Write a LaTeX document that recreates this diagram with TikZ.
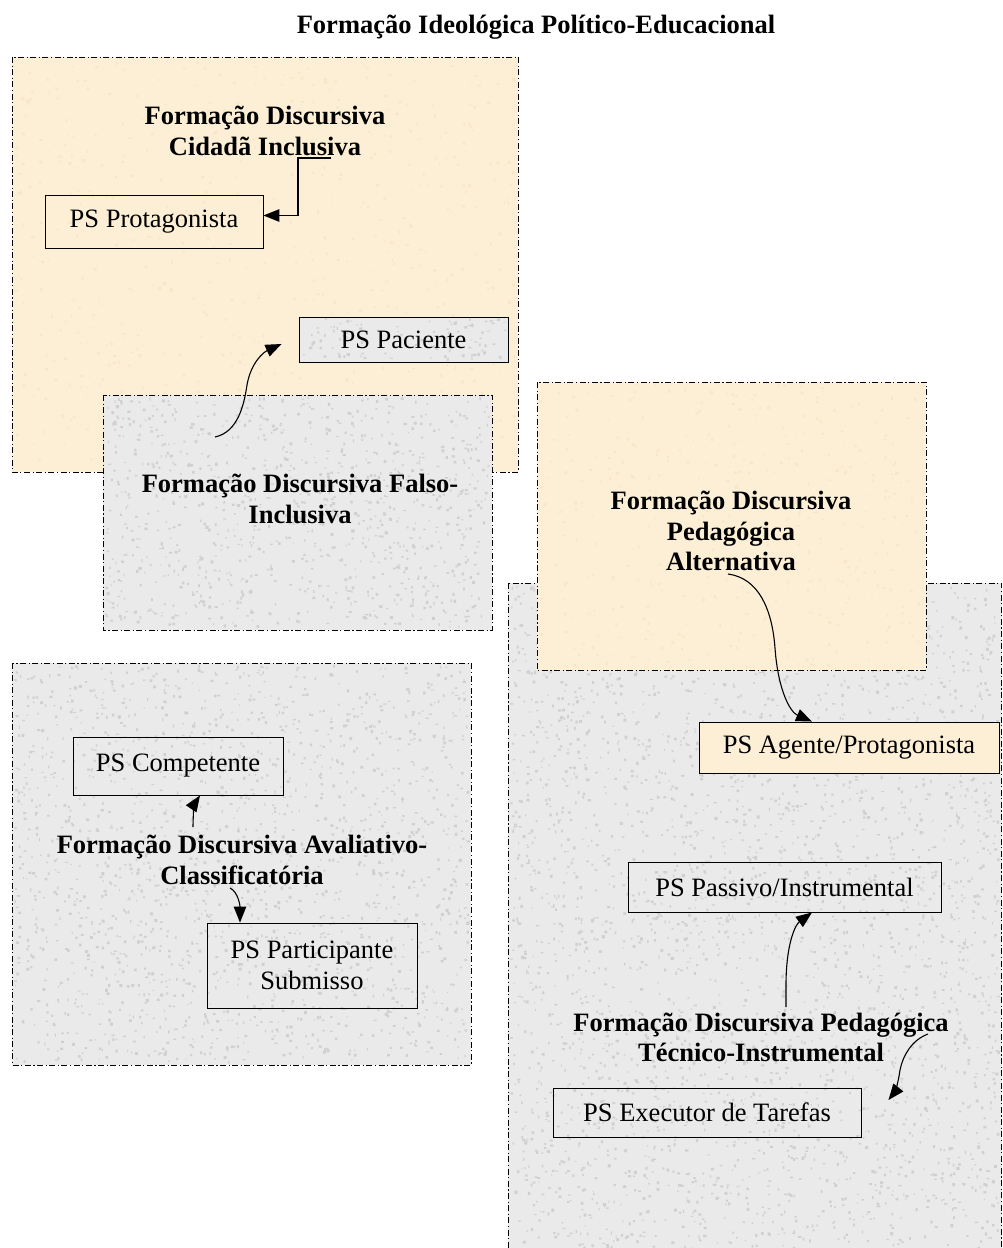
\documentclass[tikz,border=0pt]{standalone}
\usepackage{fontspec}
\setmainfont{Liberation Serif}
\usetikzlibrary{arrows.meta,calc}
\definecolor{cream}{HTML}{FCEFD5}
\definecolor{stone}{HTML}{EAEAEA}
\definecolor{fleckgray}{HTML}{D0D0D0}
\definecolor{fleckcream}{HTML}{F7E7C8}

% scatter small flecks over a rectangle: x0, y0, x1, y1, batches of 100, colour
\newcommand\scatterflecks[6]{%
  \foreach \b in {1,...,#5}{
    \fill[#6] \foreach \k in {1,...,100}{
      ({#1+rnd*(#3-#1)},{#2+rnd*(#4-#2)}) rectangle ++({1+rnd*2.2},{1+rnd*2.2})
    };
  }}

\begin{document}
\begin{tikzpicture}[x=1pt,y=-1pt,
  zone/.style={draw, line width=0.8pt, dash pattern=on 6pt off 2.5pt on 1.2pt off 2.5pt},
  psbox/.style={draw, line width=0.9pt, inner sep=0pt, align=center,
                font=\fontsize{26.5}{31}\selectfont},
  fdlabel/.style={inner sep=0pt, align=center,
                  font=\bfseries\fontsize{26.5}{30.5}\selectfont},
  link/.style={line width=1.1pt, -{Triangle[length=16pt,width=12.5pt]}}
]
\pgfmathsetseed{4711}
\useasboundingbox (0,0) rectangle (1003,1248);
\clip (0,0) rectangle (1003,1248);

% title
\node[fdlabel] (title) at (536,27) {Formação Ideológica Político-Educacional};

% discursive formation zones (drawn back to front)
\path[fill=cream] (12,57) rectangle (518,472);
\scatterflecks{14}{59}{514}{468}{6}{fleckcream}
\path[zone] (12,57) rectangle (518,472);

\path[fill=stone] (103,395) rectangle (492,630);
\scatterflecks{105}{397}{488}{626}{10}{fleckgray}
\path[zone] (103,395) rectangle (492,630);

\path[fill=stone] (508,583) rectangle (1001.5,1260);
\scatterflecks{510}{585}{998}{1248}{32}{fleckgray}
\path[zone] (508,583) rectangle (1001.5,1260);

\path[fill=cream] (537,382) rectangle (926,670);
\scatterflecks{539}{384}{922}{666}{4}{fleckcream}
\path[zone] (537,382) rectangle (926,670);

\path[fill=stone] (12,663) rectangle (471,1065);
\scatterflecks{14}{665}{467}{1061}{18}{fleckgray}
\path[zone] (12,663) rectangle (471,1065);

% zone labels
\node[fdlabel] (fdA) at (265,131) {Formação Discursiva\\Cidadã Inclusiva};
\node[fdlabel] (fdB) at (300,499) {Formação Discursiva Falso-\\Inclusiva};
\node[fdlabel] (fdC) at (731,531) {Formação Discursiva\\Pedagógica\\Alternativa};
\node[fdlabel] (fdD) at (761,1037.5) {Formação Discursiva Pedagógica\\Técnico-Instrumental};
\node[fdlabel] (fdE) at (242,860) {Formação Discursiva Avaliativo-\\Classificatória};

% subject positions
\node[psbox, minimum width=218pt, minimum height=53pt] (prot) at (154,221.5) {PS Protagonista};
\path[fill=stone] (299,317) rectangle (508,362);
\scatterflecks{300}{318}{505}{359}{1}{fleckgray}
\node[psbox, minimum width=209pt, minimum height=45pt] (pac) at (403.5,339.5) {PS Paciente};
\node[psbox, fill=cream, minimum width=300pt, minimum height=51pt] (agt) at (849,747.5) {PS Agente/Protagonista};
\node[psbox, minimum width=313pt, minimum height=50pt] (pas) at (784.5,887) {PS Passivo/Instrumental};
\node[psbox, minimum width=308pt, minimum height=49pt] (exe) at (707,1112.5) {PS Executor de Tarefas};
\node[psbox, minimum width=210pt, minimum height=58pt] (comp) at (178,766) {PS Competente};
\node[psbox, minimum width=210pt, minimum height=85pt] (part) at (312,965.5) {PS Participante\\Submisso};

% connector origins next to the labels
\coordinate (sA) at (331,158);
\coordinate (sB) at (215,437);
\coordinate (sC) at (728,574);
\coordinate (sD1) at (786,1007);
\coordinate (sD2) at (928,1034);
\coordinate (sE1) at (193,827);
\coordinate (sE2) at (230,888);

% connectors
\draw[link] (sA) -- ++(-33,0) |- ([yshift=6pt]prot.east);
\draw[link] (sB) .. controls (238,432) and (244,405) .. (247,385)
             .. controls (251,362) and (264,352) .. ([xshift=-17pt,yshift=-4.5pt]pac.west);
\draw[link] (sC) .. controls (758,578) and (772,608) .. (775,648)
             .. controls (778,690) and (790,712) .. ([xshift=-37pt]agt.north);
\draw[link] (sD1) -- (786,985) .. controls (786,945) and (795,925) .. ([xshift=27.5pt]pas.south);
\draw[link] (sD2) .. controls (912,1040) and (903,1055) .. (900,1070)
             .. controls (898,1085) and (894,1093) .. ([xshift=27pt,yshift=12.5pt]exe.east);
\draw[link] (sE1) .. controls (193,812) and (195,803) .. ([xshift=22pt]comp.south);
\draw[link] (sE2) .. controls (238,892) and (240,905) .. ([xshift=-72pt]part.north);
\end{tikzpicture}
\end{document}
